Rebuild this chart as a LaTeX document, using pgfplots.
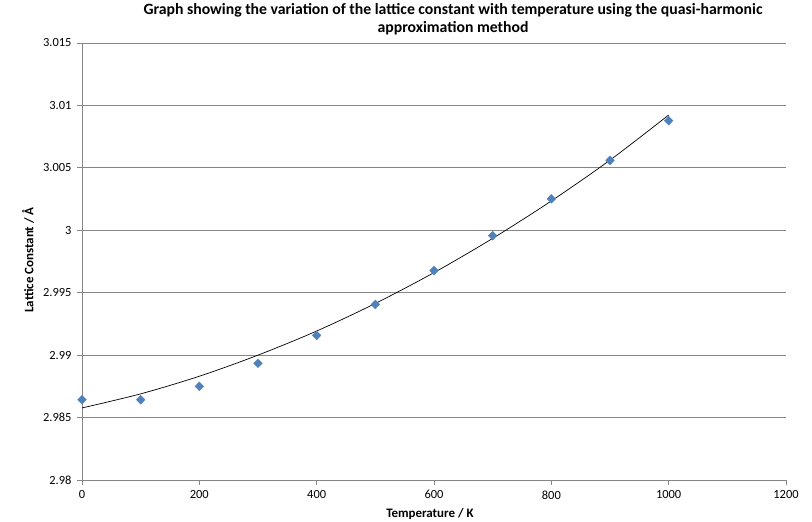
\documentclass[border=0pt]{standalone}
\usepackage{pgfplots}
\pgfplotsset{compat=1.18}
\usepackage{fontspec}
\setmainfont{Carlito}
\definecolor{gridc}{RGB}{134,134,134}
\definecolor{ptc}{RGB}{79,129,189}
\begin{document}
\begin{tikzpicture}[x=1bp,y=1bp]
\useasboundingbox (0,0) rectangle (812,522);
\begin{axis}[
  at={(82bp,42bp)}, anchor=south west,
  scale only axis, width=704bp, height=437bp,
  xmin=0, xmax=1200, ymin=2.98, ymax=3.015,
  xtick={0,200,...,1200},
  ytick={2.98,2.985,2.99,2.995,3,3.005,3.01,3.015},
  yticklabels={2.98,2.985,2.99,2.995,3,3.005,3.01,3.015},
  xticklabels={0,200,400,600,800,1000,1200},
  ymajorgrids, grid style={gridc, line width=0.8bp},
  axis line style={gridc, line width=0.8bp},
  axis x line*=bottom, axis y line*=left,
  tick style={gridc, line width=0.8bp},
  tick align=outside, major tick length=5bp,
  tick label style={font=\fontsize{12.5}{14}\selectfont},
  xticklabel style={yshift=-2bp},
  yticklabel style={xshift=-2bp},
  scaled y ticks=false,
  clip=false,
]
\addplot[black, line width=0.7bp, smooth] coordinates {
 (0,2.98577) (100,2.98690) (200,2.98831) (300,2.99000) (400,2.99193)
 (500,2.99414) (600,2.99661) (700,2.99935) (800,3.00235) (900,3.00562) (1000,3.00923)
};
\addplot[only marks, mark=diamond*, mark size=4.5bp, mark options={fill=ptc, draw=ptc, xscale=1.3, line width=0.3bp}] coordinates {
 (0,2.98643) (100,2.98643) (200,2.98750) (300,2.98935) (400,2.99158)
 (500,2.99406) (600,2.99677) (700,2.99957) (800,3.00252) (900,3.00560) (1000,3.00878)
};
\end{axis}
\node[font=\fontsize{15.8}{18}\selectfont\bfseries, align=center] at (453,503) {Graph showing the variation of the lattice constant with temperature using the quasi-harmonic\\approximation method};
\node[font=\fontsize{13}{15}\selectfont\bfseries] at (430,8) {Temperature / K};
\node[font=\fontsize{13}{15}\selectfont\bfseries, rotate=90] at (28,262) {Lattice Constant / Å};
\end{tikzpicture}
\end{document}
